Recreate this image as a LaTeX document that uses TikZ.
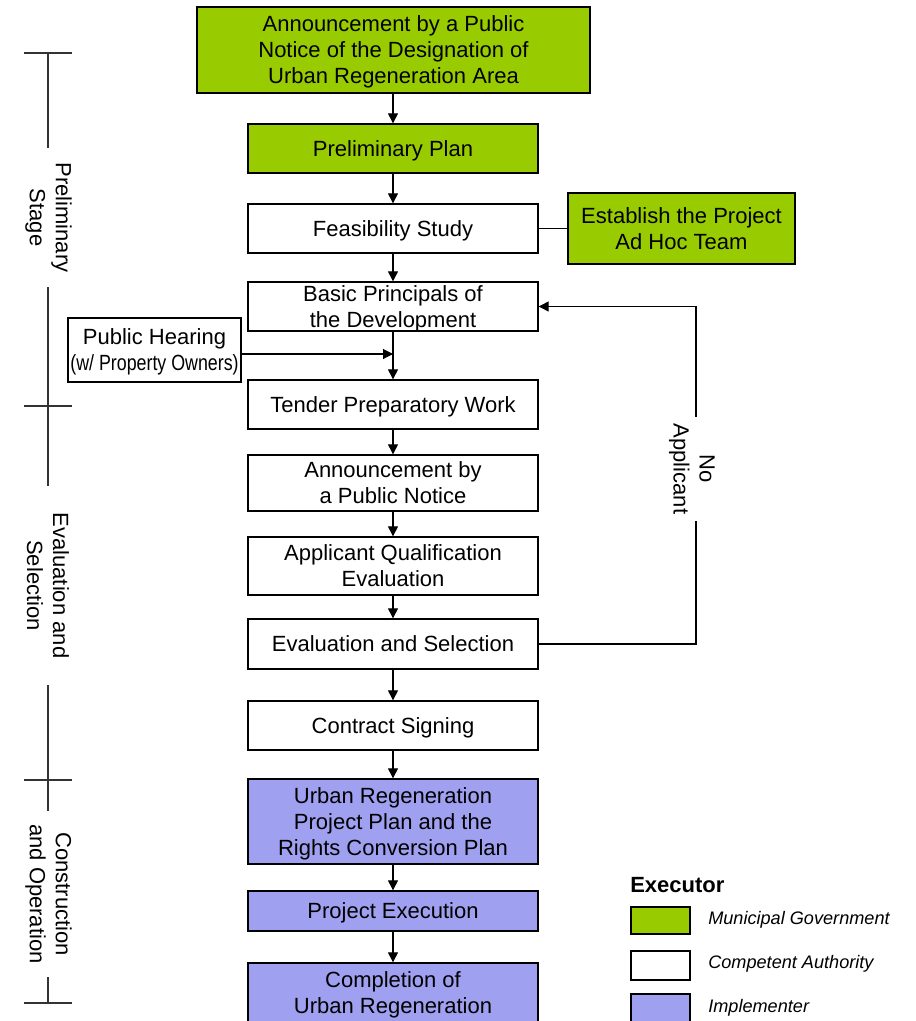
\documentclass[tikz,border=0pt]{standalone}
\usepackage{graphicx}
\usepackage{fontspec}
\setmainfont{Liberation Sans}
\usetikzlibrary{arrows.meta}
\definecolor{mgreen}{RGB}{153,204,0}
\definecolor{implblue}{RGB}{160,160,240}
\begin{document}
\begin{tikzpicture}[x=0.75pt,y=-0.75pt,
  box/.style={draw=black,line width=1pt,minimum width=217.5pt,align=center,inner sep=0pt,text depth=0pt,font=\fontsize{16.5}{19.5}\selectfont},
  gbox/.style={box,fill=mgreen},
  wbox/.style={box,fill=white},
  bbox/.style={box,fill=implblue},
  conn/.style={line width=0.8pt},
  arr/.style={conn,-{Triangle[length=7.5pt,width=7.5pt]}},
  stagelabel/.style={fill=white,rotate=-90,align=center,inner sep=0pt,minimum height=39.75pt,font=\fontsize{16.5}{19.5}\selectfont},
  legbox/.style={draw=black,line width=1pt,minimum width=44.25pt,inner sep=0pt},
  legtext/.style={anchor=west,inner sep=0pt,font=\itshape\fontsize{13.6}{16}\selectfont}]
\useasboundingbox (0,0) rectangle (915,1021);
\clip (0,0) rectangle (915,1021);
\fill[white] (0,0) rectangle (915,1021);

% stage bar
\draw[line width=0.8pt,black!80] (48,53) -- (48,1003);
\foreach \yy in {53,406,780,1003} \draw[line width=0.8pt,black!80] (24,\yy) -- (72,\yy);
\node[stagelabel,minimum width=104.25pt] (s1) at (48.5,217.5) {Preliminary\\Stage};
\node[stagelabel,minimum width=149.25pt] (s2) at (48,585.5) {Evaluation and\\Selection};
\node[stagelabel,minimum width=124.5pt] (s3) at (48.5,894) {Construction\\and Operation};

% main flow
\node[gbox,minimum width=294.75pt,minimum height=64.5pt] (ann) at (393.5,50) {Announcement by a Public\\Notice of the Designation of\\Urban Regeneration Area};
\node[gbox,minimum height=36.75pt] (pre) at (393,148.5) {Preliminary Plan};
\node[wbox,minimum height=36.75pt] (fea) at (393,228.5) {Feasibility Study};
\node[gbox,minimum width=170.25pt,minimum height=53.25pt] (est) at (681.5,228.5) {Establish the Project\\Ad Hoc Team};
\node[wbox,minimum height=36.75pt] (bas) at (393,306.5) {Basic Principals of\\the Development};
\node[wbox,minimum width=129.75pt,minimum height=48pt] (ph) at (154.5,350) {Public Hearing\\\scalebox{0.81}[1]{(w/ Property Owners)}};
\node[wbox,minimum height=36.75pt] (ten) at (393,404.5) {Tender Preparatory Work};
\node[wbox,minimum height=42pt] (an2) at (393,483) {Announcement by\\a Public Notice};
\node[wbox,minimum height=43.5pt] (app) at (393,566) {Applicant Qualification\\Evaluation};
\node[wbox,minimum height=37.5pt] (es) at (393,644) {Evaluation and Selection};
\node[wbox,minimum height=36.75pt] (con) at (393,725.5) {Contract Signing};
\node[bbox,minimum height=63.75pt] (urp) at (393,821.5) {Urban Regeneration\\Project Plan and the\\Rights Conversion Plan};
\node[bbox,minimum height=30pt] (exe) at (393,911) {Project Execution};
\node[bbox,minimum height=45pt] (com) at (393,993) {Completion of\\Urban Regeneration};

% arrows
\draw[arr] (pre.north |- ann.south) -- (pre.north);
\draw[arr] (pre.south) -- (fea.north);
\draw[arr] (fea.south) -- (bas.north);
\draw[arr] (bas.south) -- (ten.north);
\draw[arr] (ten.south) -- (an2.north);
\draw[arr] (an2.south) -- (app.north);
\draw[arr] (app.south) -- (es.north);
\draw[arr] (es.south) -- (con.north);
\draw[arr] (con.south) -- (urp.north);
\draw[arr] (urp.south) -- (exe.north);
\draw[arr] (exe.south) -- (com.north);
\draw[conn] (fea.east) -- (est.west);
\coordinate (j) at (393,354);
\draw[arr] ([yshift=-3pt]ph.east) -- (j);
\coordinate (la) at (696,644);
\coordinate (lb) at (696,306.5);
\draw[arr] (es.east) -- (la) -- (lb) -- (bas.east);
\node[fill=white,rotate=-90,align=center,inner xsep=5pt,inner ysep=1pt,font=\fontsize{16.5}{19.5}\selectfont] (noapp) at (692,469) {No\\Applicant};

% legend
\node[anchor=west,inner sep=0pt,font=\bfseries\fontsize{16.5}{19.5}\selectfont] (exec) at (630,885) {Executor};
\node[legbox,fill=mgreen,minimum height=20.25pt] (lg) at (660.5,920.5) {};
\node[legbox,fill=white,minimum height=21.75pt] (lw) at (660.5,965.5) {};
\node[legbox,fill=implblue,minimum height=21pt] (lb2) at (660.5,1008) {};
\node[legtext] (tg) at (708,920) {Municipal Government};
\node[legtext] (tw) at (708,963.5) {Competent Authority};
\node[legtext] (tb) at (708,1008) {Implementer};
\end{tikzpicture}
\end{document}
